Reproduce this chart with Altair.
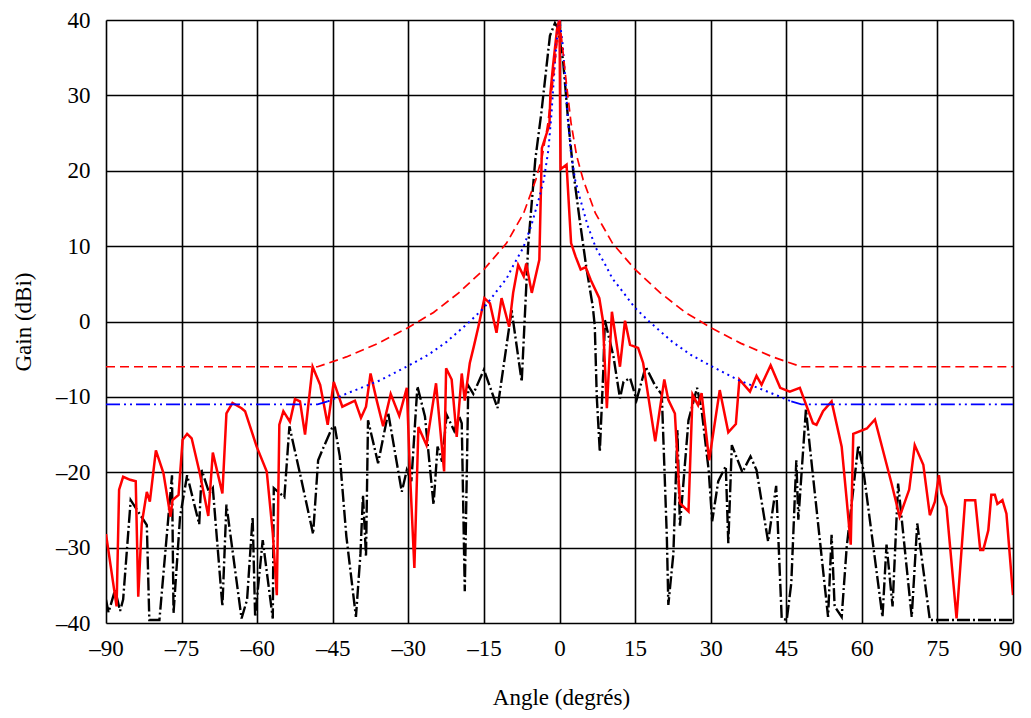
import altair as alt
import pandas as pd

# Measured pattern (red, solid)
red_angle = [-90, -87.9, -87.4, -86.6, -85.2, -84.1, -83.6, -82.9, -81.9, -81.3, -80.1, -78.6, -77.2, -76.8,
             -75.6, -74.8, -73.9, -73.0, -71.4, -69.7, -68.8, -66.9, -66.1, -64.9, -63.1, -62.4, -60.1, -58.1,
             -56.9, -56.1, -55.6, -54.8, -53.5, -52.5, -51.5, -50.5, -49.0, -47.5, -46.0, -44.8, -43.1, -40.6,
             -39.4, -38.4, -37.5, -36.3, -35.0, -33.5, -31.8, -30.3, -29.7, -28.8, -28.0, -26.4, -24.5, -22.9,
             -22.5, -21.4, -20.4, -19.4, -18.8, -17.8, -17.0, -16.1, -14.9, -13.8, -12.5, -11.5, -10.0, -9.2,
             -8.2, -7.1, -6.6, -5.5, -4.0, -3.5, -2.0, -1.8, -1.3, -0.5, 0.0, 0.2, 1.4, 2.3, 3.2,
             4.2, 5.2, 6.2, 7.9, 8.6, 9.4, 10.4, 12.0, 13.0, 14.0, 15.6, 16.6, 19.0, 19.9, 20.8, 21.6, 22.9,
             23.9, 25.6, 26.4, 27.5, 28.2, 29.7, 31.8, 33.5, 35.0, 35.7, 37.8, 39.1, 40.1, 41.9, 43.8, 45.7,
             47.7, 50.3, 51.0, 52.3, 54.0, 56.0, 57.0, 57.8, 58.3, 61.0, 62.6, 65.9, 67.5, 69.4, 70.5, 72.2,
             73.5, 74.5, 75.3, 75.8, 76.8, 78.8, 80.5, 82.5, 83.5, 84.1, 85.1, 85.7, 86.4, 86.9, 87.9, 88.7, 90]
red_gain = [-28.2, -37.8, -22.3, -20.6, -21.0, -21.2, -36.5, -26.8, -22.6, -23.9, -17.1, -20.1, -25.9, -23.7,
            -23.0, -15.7, -14.9, -15.5, -20.1, -25.8, -17.4, -22.8, -12.2, -10.8, -11.5, -11.9, -16.6, -19.9,
            -28.1, -36.3, -13.7, -11.9, -13.3, -10.3, -10.6, -15.0, -6.0, -8.4, -13.7, -8.0, -11.3, -10.5,
            -12.8, -11.3, -6.9, -10.4, -13.9, -9.6, -12.5, -8.8, -19.7, -32.7, -14.0, -16.4, -8.2, -19.9,
            -6.2, -7.7, -15.3, -6.9, -10.5, -5.5, -3.3, -0.7, 3.1, 2.4, -1.5, 3.1, -0.7, 3.8,
            7.5, 6.0, 7.7, 3.8, 8.2, 23.0, 26.1, 30.3, 33.8, 38.7, 40.2, 20.2, 20.8, 10.4, 8.6,
            6.9, 7.2, 5.5, 3.1, 0.2, -11.5, 1.3, -6.0, 0.1, -3.1, -3.5, -5.5, -15.9, -11.7, -7.7, -10.4, -12.2,
            -24.1, -25.2, -9.7, -11.1, -9.5, -18.4, -9.1, -14.7, -13.6, -7.7, -9.3, -7.2, -8.4, -5.8, -8.8, -9.3,
            -8.8, -13.5, -13.7, -11.9, -10.6, -16.6, -23.7, -29.6, -14.9, -14.2, -13.0, -21.5, -25.9, -22.3, -16.4, -19.0,
            -25.7, -23.9, -20.4, -22.8, -24.6, -39.4, -23.7, -23.7, -30.3, -30.3, -27.7, -23.0, -23.0, -24.2, -23.7, -25.5, -36.3]

# Measured pattern (black, dash-dot)
black_angle = [-90, -89.5, -88.2, -87.2, -86.6, -85.1, -81.9, -81.4, -79.4, -76.9, -76.6, -75.3, -73.9, -71.5,
               -71.0, -69.5, -68.8, -66.9, -66.1, -63.1, -62.0, -60.9, -60.4, -58.9, -56.9, -56.7, -54.6, -53.6,
               -51.2, -48.9, -47.9, -46.9, -45.2, -44.6, -43.6, -42.3, -40.4, -39.5, -39.0, -38.4, -38.0, -36.0,
               -34.0, -31.3, -30.3, -29.4, -28.2, -26.7, -25.0, -24.2, -23.3, -22.4, -20.9, -19.9, -19.4, -18.8,
               -18.1, -17.1, -15.0, -12.3, -9.5, -7.5, -6.2, -4.8, -3.6, -1.9, -0.9, -0.4, 0.7, 1.7, 2.7,
               4.0, 5.3, 6.6, 7.0, 7.4, 8.0, 8.7, 9.0, 10.7, 12.0, 12.7, 14.0, 15.3, 17.1, 18.9, 20.3, 21.3, 21.6,
               22.6, 23.4, 23.9, 25.6, 27.3, 28.2, 29.6, 30.3, 31.5, 33.0, 33.5, 34.2, 36.3, 37.9, 39.1, 41.4,
               43.0, 44.1, 45.1, 46.0, 47.0, 47.4, 48.9, 53.3, 54.0, 54.6, 56.0, 57.0, 59.3, 60.3, 64.1, 64.9,
               66.1, 67.2, 69.9, 71.0, 73.5, 90]
black_gain = [-36.9, -38.6, -35.6, -38.4, -36.9, -23.7, -27.0, -39.6, -39.6, -20.4, -38.7, -25.9, -20.4, -26.9,
              -19.7, -22.8, -22.1, -37.8, -24.3, -39.4, -36.9, -25.9, -39.2, -29.0, -39.4, -22.1, -23.3, -13.9,
              -21.1, -28.2, -18.4, -16.8, -14.2, -13.9, -17.9, -28.5, -39.2, -30.8, -23.0, -31.2, -13.1, -18.8,
              -12.1, -22.6, -19.7, -21.2, -8.6, -12.6, -24.3, -16.6, -18.6, -12.4, -14.5, -12.6, -13.5, -35.8,
              -8.5, -9.6, -6.4, -11.5, 1.5, -8.0, 10.2, 21.5, 27.7, 37.9, 39.6, 39.0, 34.7, 26.8, 20.1,
              13.5, 7.3, 2.0, -0.6, -10.0, -17.3, -6.4, 0.2, -4.6, -10.2, -8.0, -7.5, -10.4, -6.0, -8.4, -9.7, -28.5, -37.6,
              -30.8, -14.4, -27.1, -13.1, -8.8, -11.7, -19.7, -26.5, -21.2, -19.2, -29.4, -16.4, -20.0, -17.9, -19.7, -29.2,
              -21.8, -39.4, -39.6, -34.7, -18.4, -26.3, -11.7, -39.2, -28.3, -37.8, -39.2, -29.9, -16.4, -19.7, -39.2, -29.6,
              -37.8, -21.5, -39.2, -26.8, -39.6, -39.6]

# Reference envelope (red, dashed)
redenv_angle = [-90, -48, -42.3, -36, -30, -25, -20, -15, -10.5, -7.1, -4.7, -3.4, -2.3, -1.3, -0.5, 0,
                0.5, 1.3, 2.3, 3.4, 4.7, 7.1, 10.5, 15, 20, 25, 30, 36, 42.3, 48, 90]
redenv_gain = [-6, -6, -4.7, -2.9, -0.8, 1.2, 3.8, 6.9, 10.4, 14.4, 18.8, 22.0, 26.3, 32.0, 37.0, 40,
               37.0, 32.0, 26.3, 22.0, 18.8, 14.4, 10.4, 6.9, 3.8, 1.2, -0.8, -2.9, -4.7, -6, -6]

# Reference envelope (blue, dotted)
blueenv_angle = [-90, -48, -46, -42, -35.6, -29.8, -26, -22.4, -17.8, -15, -12.5, -10.5, -9.2, -7.2, -5.6, -4.0,
                 -3.1, -2.2, -1.6, -1.1, -0.6, 0, 0.6, 1.1, 1.6, 2.2, 3.1, 4.0, 5.6, 7.2, 9.2, 10.5, 12.5, 15,
                 17.8, 22.4, 26, 29.8, 35.6, 42, 46, 48, 90]
blueenv_gain = [-11, -11, -10.6, -9.5, -7.8, -5.8, -4.4, -2.7, 0.0, 1.8, 4.0, 5.7, 7.4, 9.8, 12.7, 16.5,
                18.8, 22.8, 27.5, 32.5, 37.0, 40, 37.0, 32.5, 27.5, 22.8, 18.8, 16.5, 12.7, 9.8, 7.4, 5.7, 4.0, 1.8,
                0.0, -2.7, -4.4, -5.8, -7.8, -9.5, -10.6, -11, -11]

x_ticks = [-90, -75, -60, -45, -30, -15, 0, 15, 30, 45, 60, 75, 90]
y_ticks = [-40, -30, -20, -10, 0, 10, 20, 30, 40]

FONT = "Liberation Serif"

red_df = pd.DataFrame({"angle": red_angle, "gain": red_gain})
black_df = pd.DataFrame({"angle": black_angle, "gain": black_gain})
redenv_df = pd.DataFrame({"angle": redenv_angle, "gain": redenv_gain})
blueenv_df = pd.DataFrame({"angle": blueenv_angle, "gain": blueenv_gain})

label_expr = "datum.value < 0 ? '\u2013' + abs(datum.value) : '' + datum.value"

x_enc = alt.X("angle:Q",
              scale=alt.Scale(domain=[-90, 90], nice=False, zero=False),
              axis=alt.Axis(values=x_ticks, title="Angle (degrés)", grid=True, gridColor="#000",
                            gridWidth=1.6, gridOpacity=1, ticks=False, domain=False,
                            labelFont=FONT, labelFontSize=23, labelColor="#000", labelPadding=14,
                            labelExpr=label_expr, labelFlush=False, labelBaseline="top",
                            labelOffset={"condition": {"test": "datum.value == 90", "value": -3}, "value": 0},
                            titleFont=FONT, titleFontSize=23, titleFontWeight="normal", titleColor="#000",
                            titleX=455, titleY=81, titleBaseline="alphabetic", titleAlign="center"))
y_enc = alt.Y("gain:Q",
              scale=alt.Scale(domain=[-40, 40], nice=False, zero=False),
              axis=alt.Axis(values=y_ticks, title="Gain (dBi)", grid=True, gridColor="#000",
                            gridWidth=1.6, gridOpacity=1, ticks=False, domain=False,
                            labelFont=FONT, labelFontSize=23, labelColor="#000", labelPadding=16,
                            labelExpr=label_expr, labelFlush=False,
                            titleFont=FONT, titleFontSize=23, titleFontWeight="normal", titleColor="#000",
                            titleX=-76, titleY=301.5, titleAngle=270, titleBaseline="alphabetic",
                            titleAlign="center"))

black_line = alt.Chart(black_df).mark_line(color="#000000", strokeWidth=2.4,
                                           strokeDash=[13, 3, 2, 3], clip=True).encode(x=x_enc, y=y_enc)

# blue envelope: flat tails drawn dash-dot-dot, curved central part dotted
blue_flat = alt.Chart(blueenv_df).transform_filter("abs(datum.angle) >= 46").transform_calculate(
    side="datum.angle < 0 ? 'L' : 'R'"
).mark_line(color="#0000ff", strokeWidth=1.8, strokeDash=[14, 4, 2, 4, 2, 4], clip=True).encode(
    x="angle:Q", y="gain:Q", detail="side:N")
blue_curve = alt.Chart(blueenv_df).transform_filter("abs(datum.angle) <= 46").mark_line(
    color="#0000ff", strokeWidth=2, strokeDash=[2, 4], clip=True).encode(x="angle:Q", y="gain:Q")

redenv_line = alt.Chart(redenv_df).mark_line(color="#ff0000", strokeWidth=1.7,
                                             strokeDash=[9, 5], clip=True).encode(x="angle:Q", y="gain:Q")
red_line = alt.Chart(red_df).mark_line(color="#ff0000", strokeWidth=2.5, clip=True).encode(x="angle:Q", y="gain:Q")

chart = alt.layer(black_line, red_line, blue_flat, blue_curve, redenv_line).properties(
    width=907, height=603,
    autosize=alt.AutoSizeParams(type="none"),
    padding={"left": 98, "top": 12, "right": 10, "bottom": 87},
).configure_view(stroke=None).configure(background="white")

chart.save("out.html", embed_options={"renderer": "svg", "actions": False})
